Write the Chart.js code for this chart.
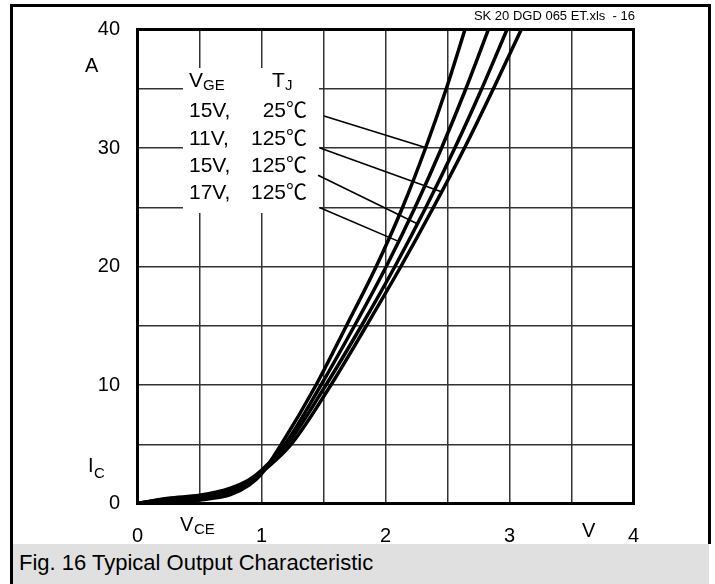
<!DOCTYPE html>
<html><head><meta charset="utf-8">
<script src="https://cdn.jsdelivr.net/npm/chart.js@4"></script>
<style>
html,body{margin:0;padding:0;background:#fff;}
#wrap{position:relative;width:715px;height:584px;overflow:hidden;font-family:"Liberation Sans",Arial,sans-serif;color:#000;}
#c{position:absolute;left:0;top:0;}
.t{position:absolute;white-space:nowrap;line-height:1;}
.f20{font-size:20px;} .f21{font-size:21px;} .f15{font-size:15px;}
.deg{font-family:"Liberation Sans","Noto Sans CJK JP",sans-serif;}
#frame{position:absolute;left:10px;top:4px;width:695px;height:537px;border:3px solid #000;border-bottom:none;}
#lstrip{position:absolute;left:10px;top:544px;width:3px;height:40px;background:#000;}
#cap{position:absolute;left:13px;top:544px;width:696px;height:40px;background:#e0e0e0;}
</style></head>
<body><div id="wrap">
<div id="frame"></div>
<canvas id="c" width="715" height="584"></canvas>
<div id="lstrip"></div>
<div id="cap"></div>
<span class="t" style="font-size:13px;right:80px;top:9px;">SK 20 DGD 065 ET.xls&nbsp;&nbsp;- 16</span>
<span class="t f20" style="left:85px;top:55px;">A</span>
<span class="t f20" style="left:88px;top:455px;">I</span><span class="t f15" style="left:94px;top:465px;">C</span>
<span class="t f20" style="left:180px;top:514px;">V</span><span class="t f15" style="left:194px;top:521px;">CE</span>
<span class="t f20" style="left:582px;top:520px;">V</span>
<span class="t f21" style="left:189px;top:69px;">V</span><span class="t f15" style="left:203px;top:77px;">GE</span>
<span class="t f21" style="left:272px;top:69px;">T</span><span class="t f15" style="left:285px;top:77px;">J</span>
<span class="t f21" style="left:189px;top:99px;">15V,</span><span class="t f21 deg" style="right:408px;top:99px;">25℃</span>
<span class="t f21" style="left:189px;top:127px;">11V,</span><span class="t f21 deg" style="right:408px;top:127px;">125℃</span>
<span class="t f21" style="left:189px;top:154px;">15V,</span><span class="t f21 deg" style="right:408px;top:154px;">125℃</span>
<span class="t f21" style="left:189px;top:181px;">17V,</span><span class="t f21 deg" style="right:408px;top:181px;">125℃</span>
<span class="t" style="font-size:22px;left:19px;top:552px;">Fig. 16 Typical Output Characteristic</span>
</div>
<script>
// V_CE (V) and I_C (A)
const vce_15V_25C  = [0, 0.25, 0.5, 0.75, 0.9, 1.0, 1.16, 1.44, 1.685, 1.925, 2.138, 2.323, 2.490, 2.641];
const ic_15V_25C   = [0, 0.15, 0.3, 0.75, 1.55, 2.5, 5, 10, 15, 20, 25, 30, 35, 40];
const vce_17V_125C = [0, 0.25, 0.5, 0.75, 0.9, 1.0, 1.19, 1.48, 1.75, 2.006, 2.239, 2.452, 2.648, 2.83];
const ic_17V_125C  = [0, 0.45, 0.7, 1.3, 2.0, 2.8, 5, 10, 15, 20, 25, 30, 35, 40];
const vce_15V_125C = [0, 0.25, 0.5, 0.75, 0.9, 1.0, 1.21, 1.52, 1.806, 2.076, 2.326, 2.559, 2.776, 2.98];
const ic_15V_125C  = [0, 0.4, 0.6, 1.1, 1.85, 2.7, 5, 10, 15, 20, 25, 30, 35, 40];
const vce_11V_125C = [0, 0.25, 0.5, 0.75, 0.9, 1.0, 1.24, 1.56, 1.846, 2.124, 2.387, 2.637, 2.87, 3.095];
const ic_11V_125C  = [0, 0.35, 0.5, 1.0, 1.75, 2.6, 5, 10, 15, 20, 25, 30, 35, 40];
const seriesLabels = ['15V, 25℃', '17V, 125℃', '15V, 125℃', '11V, 125℃'];
const xTickLabels = [0, 1, 2, 3, 4];
const yTickLabels = [0, 10, 20, 30, 40];
// leader lines (label end -> point on curve), data coordinates
const leaderFrom = [[1.504, 32.7], [1.472, 30.0], [1.456, 27.7], [1.472, 24.96]];
const leaderTo   = [[2.335, 30.0], [2.45, 26.3], [2.256, 23.6], [2.11, 22.1]];

const pts = (xs, ys) => xs.map((v, i) => ({x: v, y: ys[i]}));
const FONT = '"Liberation Sans", Arial, sans-serif';

const annot = {
  id: 'annot',
  beforeDatasetsDraw(chart) {
    const {ctx, chartArea: a} = chart;
    ctx.save();
    ctx.fillStyle = '#fff';
    ctx.fillRect(183, 68, 136, 145);
    ctx.strokeStyle = '#000';
    ctx.lineWidth = 3;
    ctx.strokeRect(a.left, a.top, a.right - a.left, a.bottom - a.top);
    ctx.restore();
  },
  afterDatasetsDraw(chart) {
    const {ctx, scales: {x, y}} = chart;
    ctx.save();
    ctx.strokeStyle = '#000';
    ctx.lineWidth = 1.6;
    leaderFrom.forEach((f, i) => {
      const t = leaderTo[i];
      ctx.beginPath();
      ctx.moveTo(x.getPixelForValue(f[0]), y.getPixelForValue(f[1]));
      ctx.lineTo(x.getPixelForValue(t[0]), y.getPixelForValue(t[1]));
      ctx.stroke();
    });
    ctx.restore();
  }
};

new Chart(document.getElementById('c'), {
  type: 'line',
  data: {
    datasets: [
      {label: seriesLabels[0], data: pts(vce_15V_25C, ic_15V_25C)},
      {label: seriesLabels[1], data: pts(vce_17V_125C, ic_17V_125C)},
      {label: seriesLabels[2], data: pts(vce_15V_125C, ic_15V_125C)},
      {label: seriesLabels[3], data: pts(vce_11V_125C, ic_11V_125C)}
    ]
  },
  options: {
    responsive: false,
    animation: false,
    devicePixelRatio: 1,
    layout: {padding: {top: 25, right: 81.5, left: 0, bottom: 0}},
    plugins: {legend: {display: false}, tooltip: {enabled: false}},
    elements: {
      point: {radius: 0},
      line: {borderWidth: 3.5, borderColor: '#000', cubicInterpolationMode: 'monotone', fill: false}
    },
    scales: {
      x: {
        type: 'linear', min: 0, max: 4,
        afterFit: s => { s.height = 80.5; },
        border: {display: false},
        grid: {color: '#333', lineWidth: 1.5, drawTicks: false},
        ticks: {
          stepSize: 0.5, autoSkip: false, maxRotation: 0, padding: 20.5, color: '#000',
          font: {family: FONT, size: 20},
          callback: v => xTickLabels.includes(v) ? String(v) : ''
        }
      },
      y: {
        type: 'linear', min: 0, max: 40,
        afterFit: s => { s.width = 137.5; },
        border: {display: false},
        grid: {color: '#333', lineWidth: 1.5, drawTicks: false},
        ticks: {
          stepSize: 5, autoSkip: false, padding: 17.5, color: '#000',
          font: {family: FONT, size: 20},
          callback: v => yTickLabels.includes(v) ? String(v) : ''
        }
      }
    }
  },
  plugins: [annot]
});
</script>
</body></html>
